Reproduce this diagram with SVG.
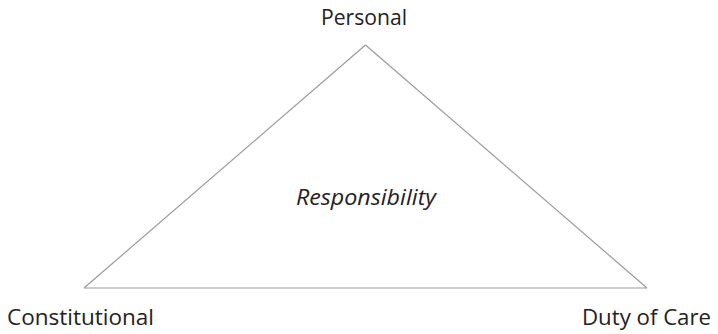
<svg xmlns="http://www.w3.org/2000/svg" width="718" height="334" viewBox="0 0 718 334">
<style>
.lbl{font-family:"Open Sans","Liberation Sans",sans-serif;font-size:22px;fill:#222}
.it{font-style:italic}
.edge{stroke:#9a9a9a;stroke-width:1.2;fill:none}
</style>
<rect width="718" height="334" fill="#fff"/>
<g id="connectors">
<path class="edge" d="M365.5,45 L84,288"/>
<path class="edge" d="M365.5,45 L647,288"/>
<path class="edge" d="M84,288 L647,288"/>
</g>
<g id="personal"><text class="lbl" x="321" y="25" textLength="86" lengthAdjust="spacingAndGlyphs">Personal</text></g>
<g id="constitutional"><text class="lbl" x="7" y="325" textLength="147" lengthAdjust="spacingAndGlyphs">Constitutional</text></g>
<g id="dutyofcare"><text class="lbl" x="582" y="325" textLength="129" lengthAdjust="spacingAndGlyphs">Duty of Care</text></g>
<g id="responsibility"><text class="lbl it" x="296" y="205" textLength="140" lengthAdjust="spacingAndGlyphs">Responsibility</text></g>
</svg>
